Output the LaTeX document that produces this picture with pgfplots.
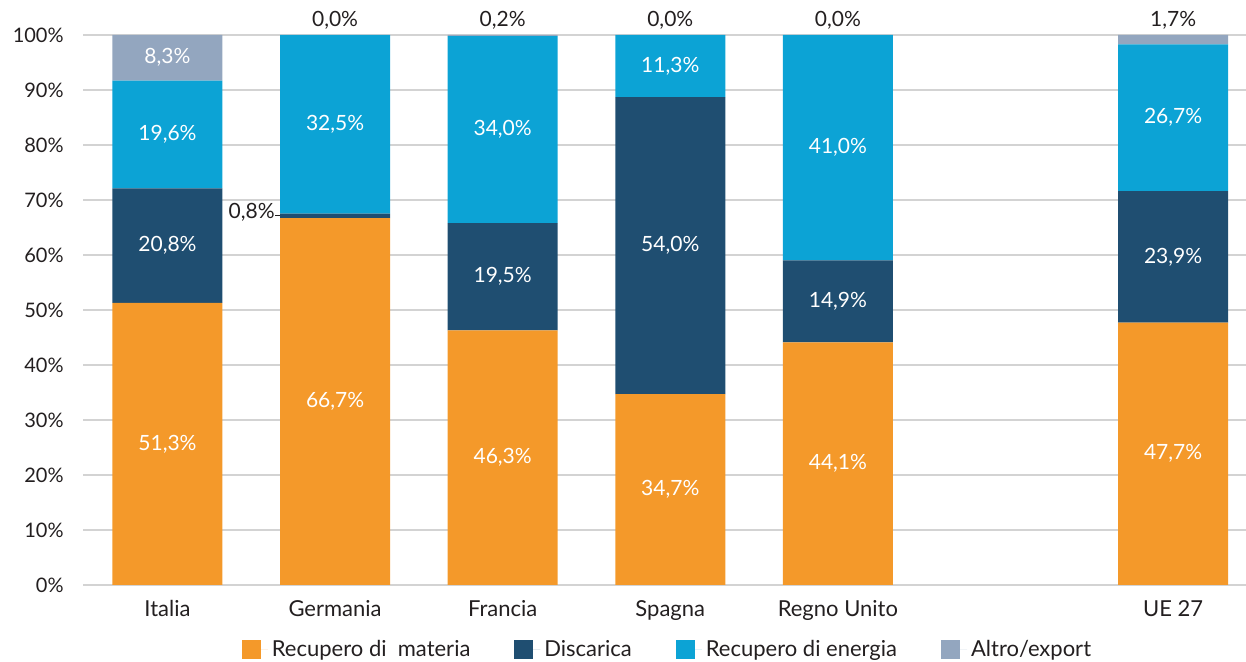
\documentclass[border=0pt]{standalone}
\usepackage{fontspec}
\setmainfont{Lato}
\usepackage{pgfplots}
\usepackage{pgfplotstable}
\pgfplotsset{compat=1.18}
\definecolor{cMat}{HTML}{F4992A}
\definecolor{cDis}{HTML}{1F4E71}
\definecolor{cEne}{HTML}{0CA3D5}
\definecolor{cAlt}{HTML}{93A6BF}
\definecolor{cGrid}{HTML}{D3D3D3}
\definecolor{cTxt}{HTML}{231F20}
\tikzset{barval/.style={text=white, font=\fontsize{10.5}{12}\selectfont, inner sep=0pt, anchor=center},
         toplab/.style={text=cTxt, font=\fontsize{10.5}{12}\selectfont, inner sep=0pt, anchor=base, yshift=4pt}}
\pgfplotstableread{
x mat dis ene alt
0 51.3 20.8 19.6 8.3
1 66.7 0.8 32.5 0.0
2 46.3 19.5 34.0 0.2
3 34.7 54.0 11.3 0.0
4 44.1 14.9 41.0 0.0
6 47.7 23.9 26.7 1.7
}\datatab
\begin{document}
\begin{tikzpicture}
\begin{axis}[
  scale only axis, width=581.5pt, height=275pt,
  xmin=-0.504, xmax=6.435, ymin=0, ymax=100,
  clip=false,
  ybar stacked, bar width=55pt,
  axis line style={draw=none},
  major tick length=0pt,
  ymajorgrids, grid style={cGrid, line width=1pt},
  ytick={0,10,...,100},
  yticklabel={\pgfmathprintnumber{\tick}\%},
  yticklabel style={font=\fontsize{10}{12}\selectfont, text=cTxt, anchor=east, inner sep=0pt, xshift=-9.5pt},
  xtick={0,1,2,3,4,6},
  xticklabels={Italia,Germania,Francia,Spagna,Regno Unito,UE 27},
  xticklabel style={font=\fontsize{11}{12}\selectfont, text=cTxt, anchor=north, inner sep=0pt, yshift=-7.5pt},
  /pgf/number format/assume math mode=true,
  legend columns=4,
  legend style={draw=none, fill=none, at={(0.5,0)}, anchor=center, yshift=-32.5pt, xshift=2pt,
    font=\fontsize{11}{12}\selectfont, text=cTxt,
    /tikz/every even column/.append style={column sep=20pt}},
  legend image code/.code={\fill[#1] (0pt,-4.75pt) rectangle (9.5pt,4.75pt); \path (0pt,0pt) -- (13pt,0pt);},
  after end axis/.code={
    % Italia
    \node[barval] at (axis cs:0,25.65) {51,3\%};
    \node[barval] at (axis cs:0,61.7) {20,8\%};
    \node[barval] at (axis cs:0,81.9) {19,6\%};
    \node[barval] at (axis cs:0,95.85) {8,3\%};
    % Germania
    \node[barval] at (axis cs:1,33.35) {66,7\%};
    \node[barval] at (axis cs:1,83.75) {32,5\%};
    \node[toplab] at (axis cs:1,100) {0,0\%};
    \node[text=cTxt, font=\fontsize{10.5}{12}\selectfont, inner sep=0pt, anchor=east, xshift=-2.5pt, yshift=2pt] at (axis cs:0.672,67.1) {0,8\%};
    \draw[cTxt, line width=0.5pt] ([xshift=-2.5pt]axis cs:0.672,67.1) -- (axis cs:0.672,67.1);
    % Francia
    \node[barval] at (axis cs:2,23.15) {46,3\%};
    \node[barval] at (axis cs:2,56.05) {19,5\%};
    \node[barval] at (axis cs:2,82.8) {34,0\%};
    \node[toplab] at (axis cs:2,100) {0,2\%};
    % Spagna
    \node[barval] at (axis cs:3,17.35) {34,7\%};
    \node[barval] at (axis cs:3,61.7) {54,0\%};
    \node[barval] at (axis cs:3,94.35) {11,3\%};
    \node[toplab] at (axis cs:3,100) {0,0\%};
    % Regno Unito
    \node[barval] at (axis cs:4,22.05) {44,1\%};
    \node[barval] at (axis cs:4,51.55) {14,9\%};
    \node[barval] at (axis cs:4,79.5) {41,0\%};
    \node[toplab] at (axis cs:4,100) {0,0\%};
    % UE 27
    \node[barval] at (axis cs:6,23.85) {47,7\%};
    \node[barval] at (axis cs:6,59.65) {23,9\%};
    \node[barval] at (axis cs:6,84.95) {26,7\%};
    \node[toplab] at (axis cs:6,100) {1,7\%};
  },
]
\addplot[fill=cMat, draw=none] table[x=x, y=mat] {\datatab};
\addlegendentry{Recupero di~ materia}
\addplot[fill=cDis, draw=none] table[x=x, y=dis] {\datatab};
\addlegendentry{Discarica}
\addplot[fill=cEne, draw=none] table[x=x, y=ene] {\datatab};
\addlegendentry{Recupero di energia}
\addplot[fill=cAlt, draw=none] table[x=x, y=alt] {\datatab};
\addlegendentry{Altro/export}
\end{axis}
\pgfresetboundingbox
\path[use as bounding box] ([xshift=-41.5pt,yshift=-38.5pt]current axis.south west) rectangle ([yshift=17.5pt]current axis.north east);
\end{tikzpicture}
\end{document}
